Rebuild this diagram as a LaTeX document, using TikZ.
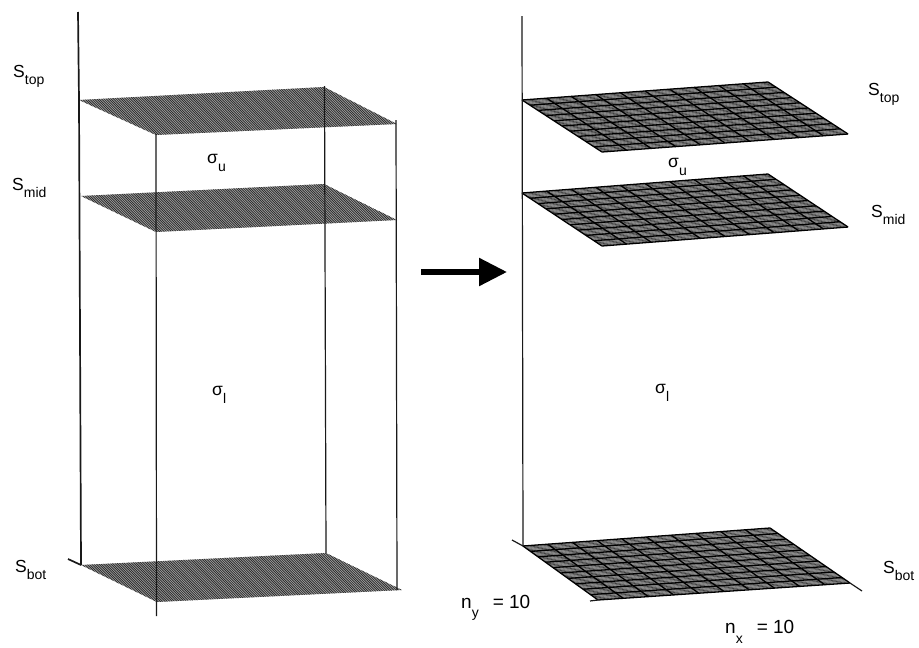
\documentclass[tikz,border=0pt]{standalone}
\usepackage{fontspec}
\setmainfont{Liberation Sans}
\usetikzlibrary{calc,arrows.meta}
\newcommand{\bigtxt}[1]{{\fontsize{17.5}{18}\selectfont #1}}
\newcommand{\numtxt}[1]{{\fontsize{19}{20}\selectfont #1}}
\newcommand{\subtxt}[1]{{\fontsize{14}{14}\selectfont #1}}
\newcommand{\lvl}[2]{\bigtxt{#1}\raisebox{-7pt}{\subtxt{#2}}}
\newcommand{\sig}[1]{\bigtxt{σ}\raisebox{-8pt}{\subtxt{#1}}}
\tikzset{
  axisline/.style={black!90,line width=1.7pt},
  thinline/.style={black!90,line width=1.2pt},
  gridline/.style={black,line width=1.3pt},
  lab/.style={inner sep=0pt,anchor=base west},
}
% plain hatched sheet
\newcommand{\hatched}[4]{%
  \begin{scope}
    \clip #1 -- #2 -- #3 -- #4 -- cycle;
    \fill[black!38] #1 -- #2 -- #3 -- #4 -- cycle;
    \foreach \k in {0,2.4,...,400}{
      \draw[black!85,line width=0.7pt] ($#1+(\k-60,-50)$) -- ++(120,120);
    }
  \end{scope}}
% gridded sheet, 10 x 10 cells
\newcommand{\gridded}[4]{%
  \begin{scope}
    \clip #1 -- #2 -- #3 -- #4 -- cycle;
    \fill[black!35] #1 -- #2 -- #3 -- #4 -- cycle;
    \foreach \k in {0,2.4,...,110}{
      \draw[black!75,line width=0.6pt] ($#1!\k/110!#4$) -- ($#2!\k/110!#3$);
    }
  \end{scope}
  \foreach \t in {0,0.1,...,1.01}{
    \draw[gridline] ($#1!\t!#2$) -- ($#4!\t!#3$);
    \draw[gridline] ($#1!\t!#4$) -- ($#2!\t!#3$);
  }}
\begin{document}
\begin{tikzpicture}[x=1pt,y=-1pt]
\useasboundingbox (0,0) rectangle (919,648);
% left block
\coordinate (tA) at (79,100); \coordinate (tB) at (324,87); \coordinate (tC) at (397,124); \coordinate (tD) at (156,135);
\coordinate (mA) at (81,196); \coordinate (mB) at (324,184); \coordinate (mC) at (397,220); \coordinate (mD) at (156,232);
\coordinate (bA) at (81,565); \coordinate (bB) at (326,553); \coordinate (bC) at (402,590); \coordinate (bD) at (157,602);
\hatched{(tA)}{(tB)}{(tC)}{(tD)}
\hatched{(mA)}{(mB)}{(mC)}{(mD)}
\hatched{(bA)}{(bB)}{(bC)}{(bD)}
\coordinate (lTop) at (78,12); \coordinate (lEnd) at (68,559);
\coordinate (dTop) at (156,134); \coordinate (dEnd) at (156.5,616);
\coordinate (cTop) at (324.5,86); \coordinate (cEnd) at (326,553);
\coordinate (rTop) at (396,120); \coordinate (rEnd) at (397,590);
\draw[axisline] (lTop) -- (79,100) -- (bA);
\draw[axisline] (lEnd) -- (bA);
\draw[thinline] (dTop) -- (dEnd);
\draw[thinline] (cTop) -- (cEnd);
\draw[thinline] (rTop) -- (rEnd);
% arrow
\coordinate (arS) at (421,272); \coordinate (arE) at (507,272);
\draw[line width=5.5pt,-{Triangle[length=28pt,width=27pt]}] (arS) -- (arE);
% right block
\coordinate (TA) at (522,100); \coordinate (TB) at (768,82); \coordinate (TC) at (848,134); \coordinate (TD) at (602,152);
\coordinate (MA) at (522,193); \coordinate (MB) at (768,174); \coordinate (MC) at (848,227); \coordinate (MD) at (602,246);
\coordinate (BA) at (523,546); \coordinate (BB) at (770,528); \coordinate (BC) at (850,583); \coordinate (BD) at (598,600);
\gridded{(TA)}{(TB)}{(TC)}{(TD)}
\gridded{(MA)}{(MB)}{(MC)}{(MD)}
\gridded{(BA)}{(BB)}{(BC)}{(BD)}
\coordinate (RTop) at (522,16); \coordinate (Rl) at (512,540); \coordinate (Rr) at (862,591); \coordinate (Rd) at (590,601);
\draw[thinline] (RTop) -- (BA);
\draw[thinline] (Rl) -- (BA);
\draw[thinline] (BC) -- (Rr);
\draw[thinline] (BD) -- (Rd);
% labels
\node[lab] (s1) at (13,77) {\lvl{S}{top}};
\node[lab] (s2) at (12,190) {\lvl{S}{mid}};
\node[lab] (s3) at (15,572) {\lvl{S}{bot}};
\node[lab] (s4) at (868,95) {\lvl{S}{top}};
\node[lab] (s5) at (871,217) {\lvl{S}{mid}};
\node[lab] (s6) at (883,573) {\lvl{S}{bot}};
\node[lab] (g1) at (207,163) {\sig{u}};
\node[lab] (g2) at (212,395) {\sig{l}};
\node[lab] (g3) at (668,167) {\sig{u}};
\node[lab] (g4) at (655,393) {\sig{l}};
\node[lab] (ny) at (461,608) {\numtxt{n}\raisebox{-9pt}{\subtxt{y}}\hspace{14pt}\numtxt{= 10}};
\node[lab] (nx) at (725,633) {\numtxt{n}\raisebox{-10pt}{\subtxt{x}}\hspace{14pt}\numtxt{= 10}};
\end{tikzpicture}
\end{document}
